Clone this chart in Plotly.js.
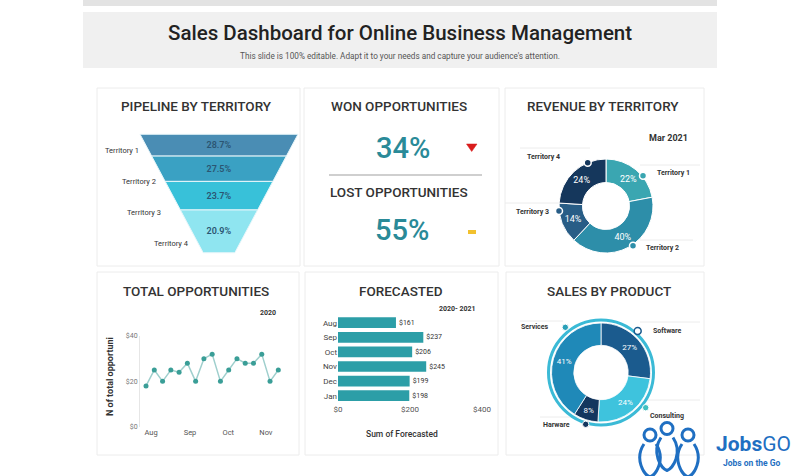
<!DOCTYPE html>
<html><head><meta charset="utf-8">
<script src="https://cdn.plot.ly/plotly-3.0.1.min.js"></script>
<style>html,body{margin:0;padding:0;background:#fff;}#chart{width:800px;height:476px;}</style>
</head><body><div id="chart"></div>
<script>
// ---------------- DATA ----------------
const pipelineTerritories = ['Territory 1','Territory 2','Territory 3','Territory 4'];
const pipelineShare = [28.7, 27.5, 23.7, 20.9];
const wonOpportunities = 34;
const lostOpportunities = 55;
const revenueTerritories = ['Territory 1','Territory 2','Territory 3','Territory 4'];
const revenueShare = [22, 40, 14, 24];
const opportunityValues = [18,25,20,25,24,28,20,30,32,20,25,30,28,28,32,20,25];
const opportunityMonths = ['Aug','Sep','Oct','Nov'];
const opportunityTickValues = [0,20,40];
const opportunityTickLabels = ['$0','$20','$40'];
const forecastMonths = ['Aug','Sep','Oct','Nov','Dec','Jan'];
const forecastValues = [161,237,206,245,199,198];
const forecastTickValues = [0,200,400];
const forecastTickLabels = ['$0','$200','$400'];
const products = ['Software','Consulting','Harware','Services'];
const productShare = [27,24,8,41];

// ---------------- LAYOUT HELPERS ----------------
const W=800,H=476;
const FONT='Roboto, "DejaVu Sans", sans-serif';
const X=x=>x/W, Y=y=>1-y/H;
function ann(x,y,text,size,color,weight,extra){
  return Object.assign({xref:'paper',yref:'paper',x:X(x),y:Y(y),text:text,showarrow:false,
    xanchor:'center',yanchor:'middle',font:{family:FONT,size:size,color:color,weight:weight||400}},extra||{});
}
function rect(x0,y0,x1,y1,fill,line,lw,layer){
  return {type:'rect',xref:'paper',yref:'paper',x0:X(x0),x1:X(x1),y0:Y(y0),y1:Y(y1),
    fillcolor:fill,line:{color:line||'rgba(0,0,0,0)',width:lw||0},layer:layer||'below'};
}
function circ(cx,cy,r,fill,line,lw){
  return {type:'circle',xref:'paper',yref:'paper',x0:X(cx-r),x1:X(cx+r),y0:Y(cy+r),y1:Y(cy-r),
    fillcolor:fill,line:{color:line||'rgba(0,0,0,0)',width:lw||0},layer:'above'};
}
function seg(x0,y0,x1,y1,color,w){
  return {type:'line',xref:'paper',yref:'paper',x0:X(x0),x1:X(x1),y0:Y(y0),y1:Y(y1),line:{color:color,width:w},layer:'below'};
}
function path(cmds,fill,line,w){
  const d=cmds.map(c=>{
    if(c[0]==='Z') return 'Z';
    let s=c[0];
    for(let i=1;i<c.length;i+=2){ s+=' '+X(c[i]).toFixed(5)+','+Y(c[i+1]).toFixed(5); }
    return s;
  }).join(' ');
  return {type:'path',xref:'paper',yref:'paper',path:d,fillcolor:fill||'rgba(0,0,0,0)',
    line:{color:line||'rgba(0,0,0,0)',width:w||0},layer:'above'};
}

// ---------------- TRACES ----------------
const funnelTrace = {
  type:'funnelarea', values:pipelineShare, labels:pipelineTerritories,
  domain:{x:[X(140),X(298)], y:[Y(253),Y(134)]},
  aspectratio:0.75, baseratio:0.2,
  marker:{colors:['#4a8db4','#3aa1c3','#38c1d9','#8fe5f0'], line:{color:'#e8f6fa',width:1}},
  texttemplate:'%{value}%', textposition:'inside',
  textfont:{family:FONT,size:9,color:'#2b5572',weight:600},
  hoverinfo:'none', showlegend:false
};
const revenueTrace = {
  type:'pie', values:revenueShare, labels:revenueTerritories, sort:false, direction:'clockwise', rotation:0,
  hole:0.5, domain:{x:[X(559),X(653)], y:[Y(253),Y(159)]},
  marker:{colors:['#3aa6b1','#2d8ea9','#285d86','#15375c'], line:{color:'#ffffff',width:1}},
  texttemplate:'%{value}%', textposition:'inside', insidetextorientation:'horizontal',
  textfont:{family:FONT,size:9,color:'#ffffff'}, hoverinfo:'none', showlegend:false
};
const lineTrace = {
  type:'scatter', mode:'lines+markers', x:opportunityValues.map((_,i)=>i), y:opportunityValues,
  xaxis:'x', yaxis:'y',
  line:{color:'#9fcfcd',width:1.5}, marker:{color:'#3a9e97',size:5},
  hoverinfo:'none', showlegend:false, cliponaxis:false
};
const barTrace = {
  type:'bar', orientation:'h', x:forecastValues, y:forecastMonths, xaxis:'x2', yaxis:'y2',
  marker:{color:'#2c9ea7'}, texttemplate:'$%{x}', textposition:'outside', cliponaxis:false,
  textfont:{family:FONT,size:7,color:'#333333'}, hoverinfo:'none', showlegend:false
};
const productTrace = {
  type:'pie', values:productShare, labels:products, sort:false, direction:'clockwise', rotation:0,
  hole:0.55, domain:{x:[X(551.5),X(650.5)], y:[Y(422),Y(323)]},
  marker:{colors:['#1b5b8e','#3ec3dd','#13365e','#1f89b8'], line:{color:'#ffffff',width:0.8}},
  texttemplate:'%{value}%', textposition:'inside', insidetextorientation:'horizontal',
  textfont:{family:FONT,size:8,color:'#ffffff'}, hoverinfo:'none', showlegend:false
};

// ---------------- SHAPES ----------------
const shapes = [
  rect(83,0,717,6,'#e3e3e3'),
  rect(83,12,717,68,'#f0f0f0'),
  rect(97,88,300,266,'#ffffff','#ececec',1),
  rect(304,88,499,266,'#ffffff','#ececec',1),
  rect(505,88,704,266,'#ffffff','#ececec',1),
  rect(97,272,299,455,'#ffffff','#ececec',1),
  rect(305,272,498,455,'#ffffff','#ececec',1),
  rect(506,272,704,455,'#ffffff','#ececec',1),
  // won / lost
  seg(329,175,482,175,'#cfcfcf',2),
  path([['M',466.5,144],['L',477,144],['L',471.7,151.5],['Z']],'#d91c1c','#d91c1c',0.5),
  rect(468,230,476,234,'#f2c12e',null,0,'above'),
  // revenue label dividers
  seg(520,148,590,148,'#ececec',1),
  seg(640,165,700,165,'#ececec',1),
  seg(505,203,560,203,'#ececec',1),
  seg(640,240,693,240,'#ececec',1),
  // sales label dividers
  seg(520,321,563,321,'#ececec',1),
  seg(640,322,700,322,'#ececec',1),
  seg(645,400,700,400,'#ececec',1),
  seg(540,417,585,417,'#ececec',1),
  // outer ring of product donut
  Object.assign(circ(601,372.5,52.5,'rgba(0,0,0,0)','#3bbad6',3),{layer:'below'}),
  // revenue dots
  circ(643,175.7,3.5,'#3aa6b1','#ffffff',1.5),
  circ(633,245.7,3.5,'#2d8ea9','#ffffff',1.5),
  circ(559,211,3.5,'#285d86','#ffffff',1.5),
  circ(587.7,162.7,3.5,'#15375c','#ffffff',1.5),
  // product dots
  circ(637.7,331,3.5,'#ffffff','#1b5b8e',1.5),
  circ(645.7,407.7,3.2,'#40c0c0','#ffffff',1),
  circ(585.7,424.3,3.2,'#13365e','#ffffff',1),
  circ(565.3,327.3,3.2,'#2aa0b8','#ffffff',1),
];
// JobsGO logo figures
[[650,435],[667,428.5],[688,435]].forEach(([hx,hy])=>{
  shapes.push(circ(hx,hy,6,'rgba(0,0,0,0)','#1f6fc2',3));
  shapes.push(path([['M',hx-6,hy+9],['C',hx-16,hy+24,hx-6,hy+40,hx,hy+42],['C',hx+6,hy+40,hx+16,hy+24,hx+6,hy+9]],null,'#1f6fc2',3));
});

// ---------------- ANNOTATIONS ----------------
const annotations = [
  ann(400,33,'Sales Dashboard for Online Business Management',20.5,'#222222',500),
  ann(400,56,"This slide is 100% editable. Adapt it to your needs and capture your audience's attention.",8.2,'#555555',400),
  ann(196.5,106.5,'PIPELINE BY TERRITORY',13.5,'#333333',500),
  ann(399,106.5,'WON OPPORTUNITIES',13.5,'#333333',500),
  ann(399,191.5,'LOST OPPORTUNITIES',13.5,'#333333',500),
  ann(603,106.5,'REVENUE BY TERRITORY',13.5,'#333333',500),
  ann(195.5,290.5,'TOTAL OPPORTUNITIES',13.5,'#333333',500),
  ann(401,290.5,'FORECASTED',13.5,'#333333',500),
  ann(609,290.5,'SALES BY PRODUCT',13.5,'#333333',500),
  ann(402.5,148,wonOpportunities+'%',29,'#2a8a98',500),
  ann(402,229.5,lostOpportunities+'%',29,'#2a8a98',500),
  ann(668,138,'Mar 2021',9,'#333333',700),
  ann(268,312.5,'2020',7,'#333333',700),
  ann(457,309,'2020- 2021',7,'#333333',700),
  ann(110,377,'N of total opportuni',9,'#333333',700,{textangle:-90}),
  ann(402,434,'Sum of Forecasted',8.5,'#333333',500),
  ann(753,444,'<b>Jobs</b>GO',21,'#1f6fc2',400),
  ann(751.5,463,'Jobs on the Go',8.5,'#1f6fc2',700),
];
// funnel territory labels
const funnelLabelPos = [[122,150],[139,181],[144,213],[171,244]];
pipelineTerritories.forEach((t,i)=>annotations.push(ann(funnelLabelPos[i][0],funnelLabelPos[i][1],t,7.5,'#333333',400)));
// revenue territory labels
const revenueLabelPos = [[673,173],[662,248],[532,212],[543,157.5]];
revenueTerritories.forEach((t,i)=>annotations.push(ann(revenueLabelPos[i][0],revenueLabelPos[i][1],t,7,'#333333',700)));
// product labels
const productLabelPos = [[667.5,331],[667,416],[556.5,425],[535,327.3]];
products.forEach((t,i)=>annotations.push(ann(productLabelPos[i][0],productLabelPos[i][1],t,7,'#333333',700)));

const layout = {
  width:W, height:H, margin:{l:0,r:0,t:0,b:0}, paper_bgcolor:'#ffffff', plot_bgcolor:'rgba(0,0,0,0)',
  font:{family:FONT}, showlegend:false, bargap:0.27,
  xaxis:{domain:[X(140),X(284)], range:[-0.73,16.69], tickvals:[0.6,5.32,9.95,14.5], ticktext:opportunityMonths,
    showgrid:false, zeroline:false, showline:false, ticks:'', tickfont:{family:FONT,size:7.5,color:'#555555'}, anchor:'y', fixedrange:true},
  yaxis:{domain:[Y(426.7),Y(336)], range:[0,40], tickvals:opportunityTickValues, ticktext:opportunityTickLabels,
    showgrid:false, zeroline:false, showline:true, linecolor:'#e6e6e6', linewidth:1, ticks:'',
    tickfont:{family:FONT,size:7,color:'#777777'}, anchor:'x', fixedrange:true},
  xaxis2:{domain:[X(338),X(482)], range:[0,400], tickvals:forecastTickValues, ticktext:forecastTickLabels,
    showgrid:false, zeroline:false, showline:false, ticks:'', tickfont:{family:FONT,size:8,color:'#555555'}, anchor:'y2', fixedrange:true},
  yaxis2:{domain:[Y(403),Y(315.4)], type:'category', autorange:'reversed', showgrid:false, zeroline:false, ticks:'',
    tickfont:{family:FONT,size:8,color:'#444444'}, anchor:'x2', fixedrange:true},
  shapes:shapes, annotations:annotations
};

Plotly.newPlot('chart',[funnelTrace,revenueTrace,lineTrace,barTrace,productTrace],layout,{displayModeBar:false,staticPlot:true});
</script></body></html>
